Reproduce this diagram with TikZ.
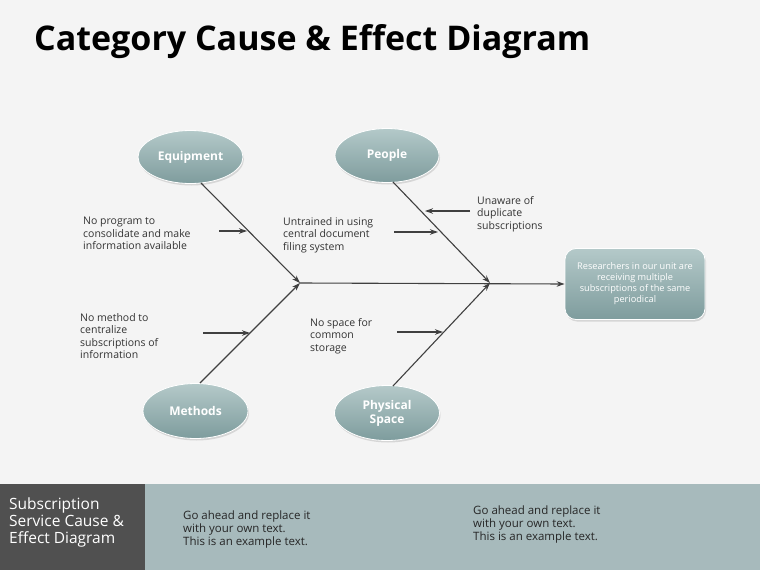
\documentclass[tikz,border=0pt]{standalone}
\usepackage{fontspec}
\setmainfont{Open Sans}
\usetikzlibrary{arrows.meta,shadows,shapes.geometric}
\definecolor{bg}{HTML}{F4F4F4}
\definecolor{line}{HTML}{404040}
\definecolor{ovtop}{HTML}{B4C9C9}
\definecolor{ovbot}{HTML}{7E9C9D}
\definecolor{dark}{HTML}{505050}
\definecolor{band}{HTML}{A7BABC}
\definecolor{txt}{HTML}{333333}
\tikzset{
  bone/.style={draw=line,line width=1.1pt,-{Stealth[length=8pt,width=5.5pt]}},
  sub/.style={draw=line,line width=1.1pt,-{Stealth[length=8pt,width=5.5pt]}},
  cat/.style={ellipse,top color=ovtop,bottom color=ovbot,draw=white,line width=0.8pt,
    text=white,font=\fontsize{12}{14}\selectfont\bfseries,align=center,inner sep=0pt,
    minimum width=105pt,minimum height=53pt,
    drop shadow={opacity=0.25,shadow xshift=1pt,shadow yshift=-2pt}},
  lbl/.style={anchor=north west,align=left,text=txt,font=\fontsize{10.5}{12.6}\selectfont,inner sep=0pt},
  foot/.style={anchor=north west,align=left,text=black!85,font=\fontsize{11.5}{13}\selectfont,inner sep=0pt}
}
\begin{document}
\begin{tikzpicture}[x=1pt,y=-1pt]
\fill[bg] (0,0) rectangle (760,570);
\useasboundingbox (0,0) rectangle (760,570);
\node[anchor=base west,inner sep=0pt,font=\fontsize{34}{37}\selectfont\bfseries] (title) at (34,50) {Category Cause \& Effect Diagram};

% category ellipses
\node[cat] (eq) at (190.5,157) {Equipment};
\node[cat,minimum width=104pt,minimum height=54pt] (pe) at (387,155.5) {People};
\node[cat,minimum height=55pt] (me) at (195.5,411) {Methods};
\node[cat,minimum height=55pt] (ps) at (387,413) {Physical\\Space};

% effect box
\node[rounded corners=11pt,top color=ovtop,bottom color=ovbot,draw=white,line width=0.8pt,
  minimum width=140pt,minimum height=71pt,text=white,align=center,
  font=\fontsize{9.2}{11}\selectfont,inner sep=2pt,
  drop shadow={opacity=0.25,shadow xshift=1pt,shadow yshift=-2pt}] (eff) at (635,284)
  {Researchers in our unit are\\receiving multiple\\subscriptions of the same\\periodical};

% junctions
\coordinate (j1) at (300,283);
\coordinate (j2) at (490,283);
\coordinate (eqs) at (201,183);
\coordinate (pes) at (393,182);
\coordinate (mes) at (200,383);
\coordinate (pss) at (393,386);

\draw[bone] (eqs) -- (j1);
\draw[bone] (mes) -- (j1);
\draw[bone] (pes) -- (j2);
\draw[bone] (pss) -- (j2);
\draw[bone] (j1) -- (eff.west);

% labels
\node[lbl] (l1) at (83,217) {No program to\\consolidate and make\\information available};
\node[lbl] (l2) at (283,217) {Untrained in using\\central document\\filing system};
\node[lbl] (l3) at (477,196) {Unaware of\\duplicate\\subscriptions};
\node[lbl] (l4) at (80,313) {No method to\\centralize\\subscriptions of\\information};
\node[lbl] (l5) at (310,318) {No space for\\common\\storage};

\coordinate (a1s) at (219,231); \coordinate (a1e) at (247,231);
\coordinate (a2s) at (394,232); \coordinate (a2e) at (438,232);
\coordinate (a3s) at (470,211); \coordinate (a3e) at (425,211);
\coordinate (a4s) at (203,333); \coordinate (a4e) at (250,333);
\coordinate (a5s) at (397,332); \coordinate (a5e) at (443,332);
\draw[sub] (a1s) -- (a1e);
\draw[sub] (a2s) -- (a2e);
\draw[sub] (a3s) -- (a3e);
\draw[sub] (a4s) -- (a4e);
\draw[sub] (a5s) -- (a5e);

% footer
\fill[band] (145,484) rectangle (760,570);
\fill[dark] (0,484) rectangle (145,570);
\node[anchor=north west,align=left,text=white,font=\fontsize{15.5}{17}\selectfont,inner sep=0pt] (ft) at (9,498) {Subscription\\Service Cause \&\\Effect Diagram};
\node[foot] (f1) at (183,511) {Go ahead and replace it\\with your own text.\\This is an example text.};
\node[foot] (f2) at (473,506) {Go ahead and replace it\\with your own text.\\This is an example text.};
\end{tikzpicture}
\end{document}
